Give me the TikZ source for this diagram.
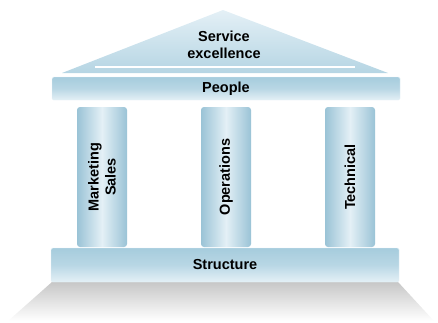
\documentclass[tikz,border=0pt]{standalone}
\usepackage{fontspec}
\setmainfont{Liberation Sans}
\usetikzlibrary{positioning}
\definecolor{marble}{RGB}{166,204,221}
\definecolor{marblelt}{RGB}{228,240,246}
\definecolor{marbledk}{RGB}{154,195,214}
\tikzstyle{label} = [font=\fontsize{14.5}{17}\selectfont\bfseries,align=center,inner sep=0pt]
\tikzstyle{beam} = [draw=marblelt,rounded corners=1.5pt,top color=marble,bottom color=marblelt,middle color=marble!70!marblelt,minimum width=348pt,inner sep=0pt]
\tikzstyle{pillar} = [rounded corners=3pt,left color=marbledk,right color=marbledk,middle color=marblelt,minimum width=50pt,minimum height=140pt,inner sep=0pt]

\begin{document}
\begin{tikzpicture}[x=1pt,y=-1pt]
\useasboundingbox (0,0) rectangle (438,322);

% floor
\shade[top color=black!22,bottom color=white] (52,282) -- (398,282) -- (434,321) -- (8,321) -- cycle;

% roof
\shade[top color=marblelt,bottom color=marble!75!marblelt] (223,10) -- (388,73) -- (62,73) -- cycle;
\draw[white,line width=1.5pt] (95,67) -- (355,67);
\node[label] (roof) at (224,45) {Service\\excellence};

% beams
\node[beam,minimum height=23pt] (people) at (226,88.5) {};
\node[label] at (people) {People};
\node[beam,minimum height=34pt] (structure) at (225,265) {};
\node[label] at (structure) {Structure};

% pillars
\node[pillar] (sales) at (102,177) {};
\node[pillar] (ops) at (226,177) {};
\node[pillar] (tech) at (350,177) {};
\node[label,rotate=90] at (sales) {Marketing\\Sales};
\node[label,rotate=90] at (ops) {Operations};
\node[label,rotate=90] at (tech) {Technical};

\end{tikzpicture}
\end{document}
